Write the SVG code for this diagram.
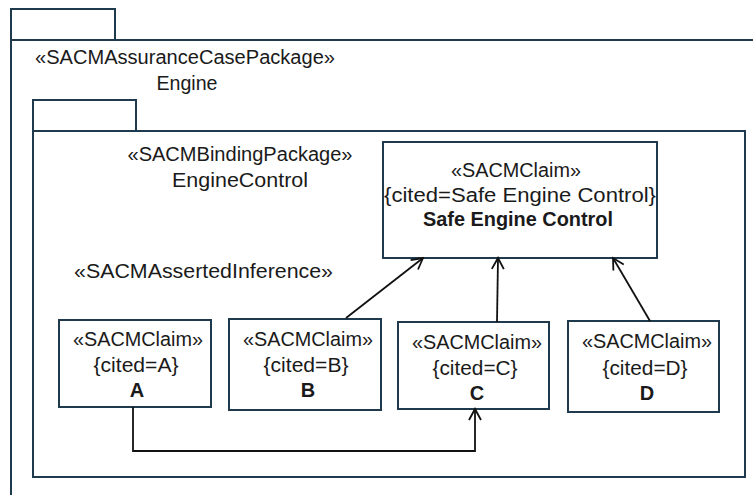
<svg xmlns="http://www.w3.org/2000/svg" width="753" height="495" viewBox="0 0 753 495">
<defs>
<style>
.pkg{fill:none;stroke:#1e3a4c;stroke-width:2}
.box{fill:#fff;stroke:#1e3a4c;stroke-width:2}
.t{font-family:"Liberation Sans",Arial,sans-serif;font-size:20px;fill:#1a1a1a}
.c{text-anchor:middle}
.b{font-weight:bold}
.conn{fill:none;stroke:#111;stroke-width:1.8}
</style>
<marker id="open" markerWidth="14" markerHeight="14" refX="12" refY="7" orient="auto" markerUnits="userSpaceOnUse">
<path d="M1,1 L12,7 L1,13" fill="none" stroke="#111" stroke-width="1.8"/>
</marker>
</defs>
<rect width="753" height="495" fill="#fff"/>
<g id="pkg-engine">
<path class="pkg" d="M11,40 V9 H115 V40"/>
<path class="pkg" d="M11,495 V40 H753"/>
<text class="t" x="35" y="64" textLength="300" lengthAdjust="spacingAndGlyphs">«SACMAssuranceCasePackage»</text>
<text class="t c" x="187" y="90" textLength="61" lengthAdjust="spacingAndGlyphs">Engine</text>
</g>
<g id="pkg-enginecontrol">
<path class="pkg" d="M33,131 V100 H136 V131"/>
<rect class="pkg" x="33" y="131" width="712" height="346"/>
<text class="t c" x="240" y="161" textLength="225" lengthAdjust="spacingAndGlyphs">«SACMBindingPackage»</text>
<text class="t c" x="240" y="187" textLength="136" lengthAdjust="spacingAndGlyphs">EngineControl</text>
<text class="t" x="74" y="278" textLength="259" lengthAdjust="spacingAndGlyphs">«SACMAssertedInference»</text>
</g>
<g id="claim-safe">
<rect class="box" x="383" y="142" width="274" height="116"/>
<text class="t c" x="516" y="177" textLength="130" lengthAdjust="spacingAndGlyphs">«SACMClaim»</text>
<text class="t c" x="520" y="202" textLength="272" lengthAdjust="spacingAndGlyphs">{cited=Safe Engine Control}</text>
<text class="t c b" x="518" y="226" textLength="190" lengthAdjust="spacingAndGlyphs">Safe Engine Control</text>
</g>
<g id="claim-a">
<rect class="box" x="59" y="320" width="152" height="87"/>
<text class="t c" x="138" y="346" textLength="130" lengthAdjust="spacingAndGlyphs">«SACMClaim»</text>
<text class="t c" x="136" y="372" textLength="85" lengthAdjust="spacingAndGlyphs">{cited=A}</text>
<text class="t c b" x="137" y="397">A</text>
</g>
<g id="claim-b">
<rect class="box" x="229" y="319" width="152" height="91"/>
<text class="t c" x="308" y="346" textLength="130" lengthAdjust="spacingAndGlyphs">«SACMClaim»</text>
<text class="t c" x="306" y="372" textLength="85" lengthAdjust="spacingAndGlyphs">{cited=B}</text>
<text class="t c b" x="308" y="397">B</text>
</g>
<g id="claim-c">
<rect class="box" x="398" y="322" width="151" height="87"/>
<text class="t c" x="477" y="349" textLength="130" lengthAdjust="spacingAndGlyphs">«SACMClaim»</text>
<text class="t c" x="475" y="375" textLength="85" lengthAdjust="spacingAndGlyphs">{cited=C}</text>
<text class="t c b" x="477" y="400">C</text>
</g>
<g id="claim-d">
<rect class="box" x="568" y="321" width="151" height="91"/>
<text class="t c" x="647" y="348" textLength="130" lengthAdjust="spacingAndGlyphs">«SACMClaim»</text>
<text class="t c" x="645" y="375" textLength="85" lengthAdjust="spacingAndGlyphs">{cited=D}</text>
<text class="t c b" x="647" y="400">D</text>
</g>
<g id="connectors">
<line class="conn" x1="346" y1="318" x2="423" y2="258" marker-end="url(#open)"/>
<line class="conn" x1="497" y1="322" x2="498" y2="258" marker-end="url(#open)"/>
<line class="conn" x1="650" y1="321" x2="613" y2="258" marker-end="url(#open)"/>
<path class="conn" d="M133,407 V451 H475 V409" marker-end="url(#open)"/>
</g>
</svg>
